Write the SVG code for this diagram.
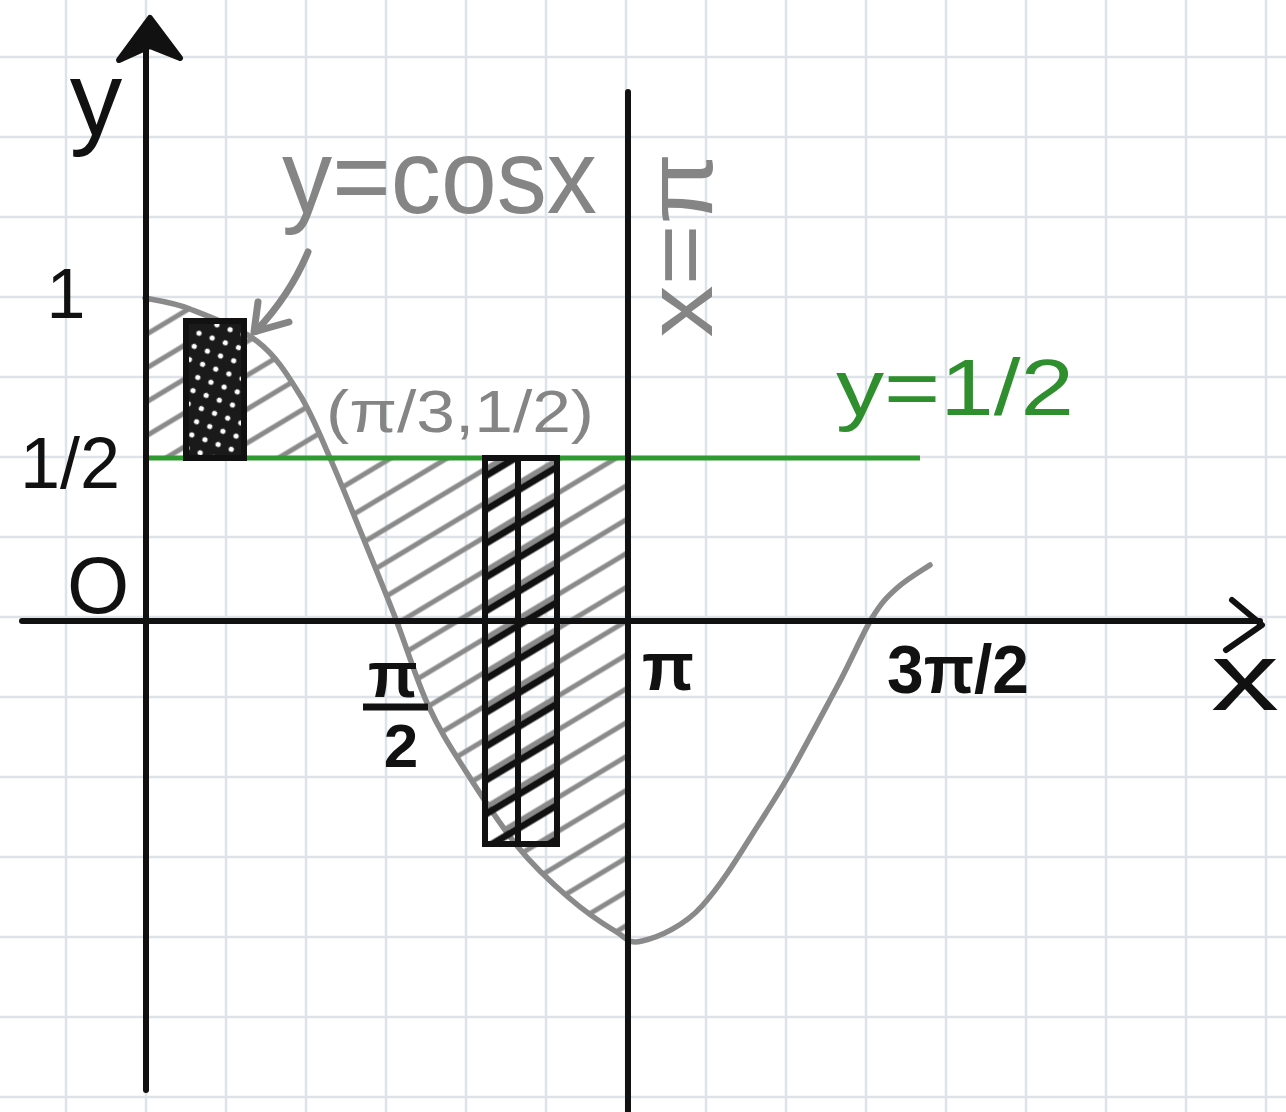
<svg xmlns="http://www.w3.org/2000/svg" width="1286" height="1112" viewBox="0 0 1286 1112">
<style>
.grid line{stroke:#dde3e8;stroke-width:2.5}
.ax{stroke:#111;stroke-width:6;fill:none;stroke-linecap:round;stroke-linejoin:round}
.lbl{font-family:"Liberation Sans",Arial,sans-serif;fill:#111}
.bold{font-weight:bold}
.gray{fill:#858585}
.green{fill:#2f8f2f}
</style>
<defs>
<pattern id="hatch" width="40" height="29" patternUnits="userSpaceOnUse" patternTransform="rotate(-31)">
<line x1="0" y1="14" x2="40" y2="14" stroke="#8a8a8a" stroke-width="5"/>
</pattern>
<pattern id="hatchBlack" width="40" height="29" patternUnits="userSpaceOnUse" patternTransform="rotate(-31) translate(0,6)">
<line x1="0" y1="14" x2="40" y2="14" stroke="#111" stroke-width="7"/>
</pattern>
<pattern id="cross" width="14" height="14" patternUnits="userSpaceOnUse" patternTransform="rotate(20)">
<rect width="14" height="14" fill="#1a1a1a"/>
<circle cx="7" cy="7" r="2.6" fill="#fff"/>
</pattern>
</defs>
<rect width="1286" height="1112" fill="#fff"/>
<g id="grid" class="grid">
<line x1="66" y1="0" x2="66" y2="1112"/><line x1="146" y1="0" x2="146" y2="1112"/><line x1="226" y1="0" x2="226" y2="1112"/><line x1="306" y1="0" x2="306" y2="1112"/><line x1="386" y1="0" x2="386" y2="1112"/><line x1="466" y1="0" x2="466" y2="1112"/><line x1="546" y1="0" x2="546" y2="1112"/><line x1="626" y1="0" x2="626" y2="1112"/><line x1="706" y1="0" x2="706" y2="1112"/><line x1="786" y1="0" x2="786" y2="1112"/><line x1="866" y1="0" x2="866" y2="1112"/><line x1="946" y1="0" x2="946" y2="1112"/><line x1="1026" y1="0" x2="1026" y2="1112"/><line x1="1106" y1="0" x2="1106" y2="1112"/><line x1="1186" y1="0" x2="1186" y2="1112"/><line x1="1266" y1="0" x2="1266" y2="1112"/>
<line x1="0" y1="57" x2="1286" y2="57"/><line x1="0" y1="137" x2="1286" y2="137"/><line x1="0" y1="217" x2="1286" y2="217"/><line x1="0" y1="297" x2="1286" y2="297"/><line x1="0" y1="377" x2="1286" y2="377"/><line x1="0" y1="457" x2="1286" y2="457"/><line x1="0" y1="537" x2="1286" y2="537"/><line x1="0" y1="617" x2="1286" y2="617"/><line x1="0" y1="697" x2="1286" y2="697"/><line x1="0" y1="777" x2="1286" y2="777"/><line x1="0" y1="857" x2="1286" y2="857"/><line x1="0" y1="937" x2="1286" y2="937"/><line x1="0" y1="1017" x2="1286" y2="1017"/><line x1="0" y1="1097" x2="1286" y2="1097"/>
</g>
<g id="hatched-regions">
<path id="region1" fill="url(#hatch)" d="M145,298 C152.5,299.8 171.2,301.7 190,309 C208.8,316.3 239.7,327.7 258,342 C276.3,356.3 288,375.7 300,395 C312,414.3 319.7,434.7 330,458 L145,458 Z"/>
<path id="region2" fill="url(#hatch)" d="M330,458 C340.3,481.3 351.2,508.5 362,535 C372.8,561.5 384,588.7 395,617 C406,645.3 416.3,679.5 428,705 C439.7,730.5 450,746.3 465,770 C480,793.7 500.8,825.8 518,847 C535.2,868.2 551.8,883 568,897 C584.2,911 602.7,923.7 615,931 L628,938 L628,458 Z"/>
</g>
<g id="curve-cos">
<path fill="none" stroke="#8a8a8a" stroke-width="5.5" stroke-linecap="round" d="M145,298 C152.5,299.8 171.2,301.7 190,309 C208.8,316.3 239.7,327.7 258,342 C276.3,356.3 288,375.7 300,395 C312,414.3 319.7,434.7 330,458 C340.3,481.3 351.2,508.5 362,535 C372.8,561.5 384,588.7 395,617 C406,645.3 416.3,679.5 428,705 C439.7,730.5 450,746.3 465,770 C480,793.7 500.8,825.8 518,847 C535.2,868.2 551.8,883 568,897 C584.2,911 602.7,923.7 615,931 C627.3,938.3 627.8,944.5 642,941 C660,937 685,925 702,906 C720,886 735,862 750,838 C765,814 778,795 792,770 C806,745 824,711 838,685 C851.7,659.2 862.2,634.2 872,618 C881.8,601.8 887.3,596.8 897,588 C906.7,579.2 924.5,568.8 930,565"/>
</g>
<g id="line-half">
<line x1="145" y1="458" x2="920" y2="458" stroke="#2f9a2f" stroke-width="5"/>
</g>
<g id="rect-small">
<rect x="186" y="321" width="58" height="137" fill="url(#cross)" stroke="#111" stroke-width="6"/>
</g>
<g id="rect-large">
<rect x="485" y="458" width="72" height="386" fill="url(#hatchBlack)" stroke="#111" stroke-width="6"/>
<line x1="518" y1="458" x2="518" y2="844" stroke="#111" stroke-width="6"/>
</g>
<g id="axes">
<line class="ax" x1="146" y1="24" x2="146" y2="1090"/>
<path d="M119,60 L150,18 L180,58 L150,46 Z" fill="#111" stroke="#111" stroke-width="6" stroke-linejoin="round"/>
<line class="ax" x1="22" y1="621" x2="1260" y2="621"/>
<path class="ax" d="M1232,600 L1262,625 L1226,650"/>
<line class="ax" x1="628" y1="92" x2="628" y2="1112"/>
</g>
<g id="pointer">
<path d="M308,252 Q290,295 256,331" fill="none" stroke="#858585" stroke-width="7" stroke-linecap="round"/>
<path d="M258,302 L254,332 L289,322" fill="none" stroke="#858585" stroke-width="7" stroke-linecap="round" stroke-linejoin="round"/>
</g>
<g id="labels">
<text class="lbl" x="96" y="135" font-size="105" text-anchor="middle">y</text>
<text class="lbl" x="66" y="318" font-size="70" text-anchor="middle">1</text>
<text class="lbl" x="70" y="488" font-size="72" text-anchor="middle">1/2</text>
<text class="lbl" x="98" y="613" font-size="80" text-anchor="middle">O</text>
<text class="lbl gray" x="282" y="213" font-size="105" textLength="315" lengthAdjust="spacingAndGlyphs">y=cosx</text>
<text class="lbl gray" x="326" y="432" font-size="60" textLength="268" lengthAdjust="spacingAndGlyphs">(π/3,1/2)</text>
<text class="lbl green" x="836" y="415" font-size="80" textLength="238" lengthAdjust="spacingAndGlyphs">y=1/2</text>
<text class="lbl gray" transform="translate(712,245) rotate(-90)" x="0" y="0" font-size="95" text-anchor="middle" textLength="185" lengthAdjust="spacingAndGlyphs">x=π</text>
<text class="lbl bold" x="393" y="697" font-size="65" text-anchor="middle">π</text>
<line x1="363" y1="707" x2="428" y2="707" stroke="#111" stroke-width="7"/>
<text class="lbl bold" x="401" y="767" font-size="62" text-anchor="middle">2</text>
<text class="lbl bold" x="668" y="690" font-size="68" text-anchor="middle">π</text>
<text class="lbl bold" x="887" y="693" font-size="68" textLength="142" lengthAdjust="spacingAndGlyphs">3π/2</text>
<text class="lbl" x="1245" y="710" font-size="96" text-anchor="middle" textLength="68" lengthAdjust="spacingAndGlyphs">x</text>
</g>
</svg>
